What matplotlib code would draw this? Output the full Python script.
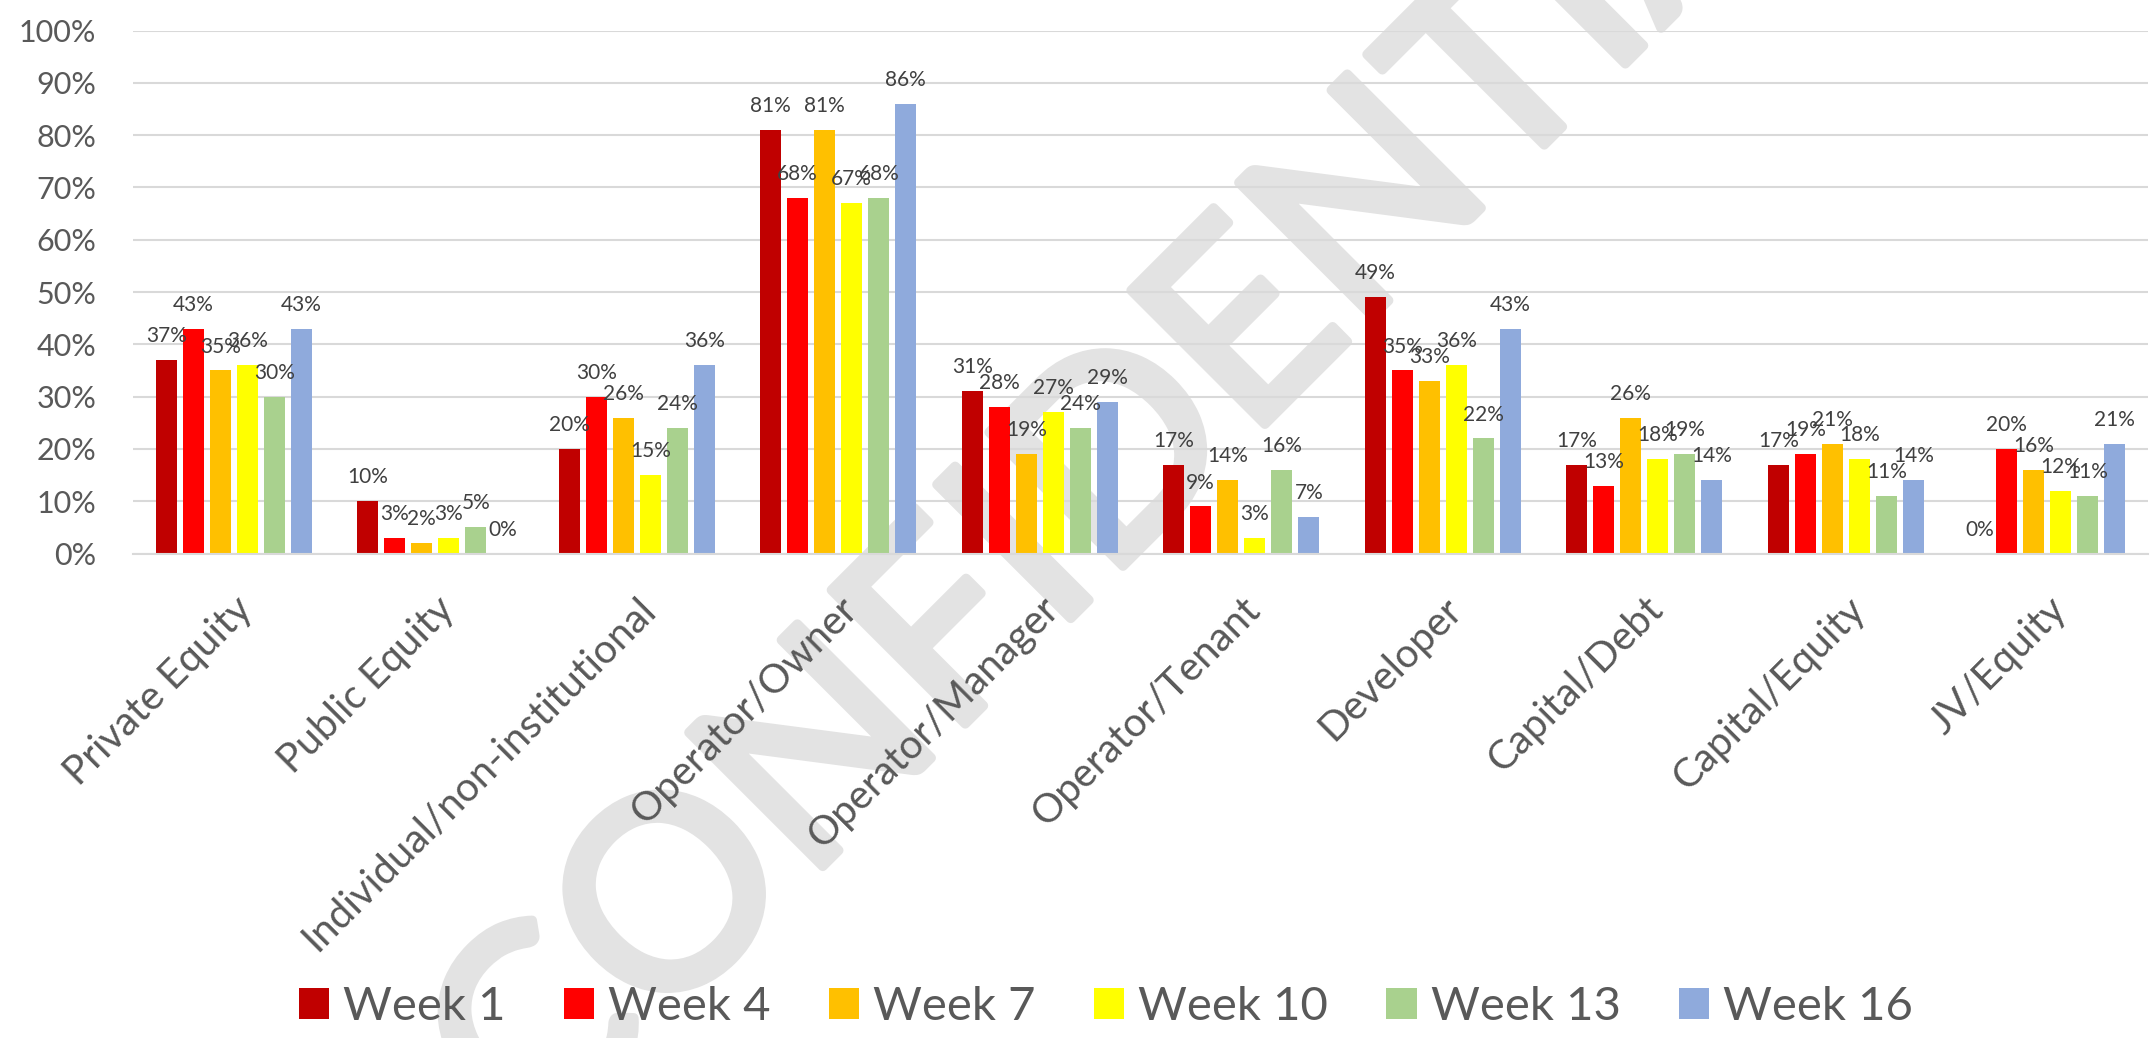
import numpy as np
import matplotlib
matplotlib.use("Agg")
import matplotlib.pyplot as plt
import matplotlib.transforms as mtransforms
import matplotlib.patheffects as pe
from matplotlib.ticker import FuncFormatter

plt.rcParams['font.family'] = ['Lato', 'DejaVu Sans']

categories = ["Private Equity", "Public Equity", "Individual/non-institutional",
              "Operator/Owner", "Operator/Manager", "Operator/Tenant", "Developer",
              "Capital/Debt", "Capital/Equity", "JV/Equity"]
weeks = ["Week 1", "Week 4", "Week 7", "Week 10", "Week 13", "Week 16"]

week1 = [37, 10, 20, 81, 31, 17, 49, 17, 17, 0]
week4 = [43, 3, 30, 68, 28, 9, 35, 13, 19, 20]
week7 = [35, 2, 26, 81, 19, 14, 33, 26, 21, 16]
week10 = [36, 3, 15, 67, 27, 3, 36, 18, 18, 12]
week13 = [30, 5, 24, 68, 24, 16, 22, 19, 11, 11]
week16 = [43, 0, 36, 86, 29, 7, 43, 14, 14, 21]
series = [week1, week4, week7, week10, week13, week16]

colors = ["#C00000", "#FF0000", "#FFC000", "#FFFF00", "#A9D18E", "#8FAADC"]

W, H = 2152, 1038
fig = plt.figure(figsize=(W / 100, H / 100), dpi=100)
ax = fig.add_axes([133 / W, 1 - 553.5 / H, (2148 - 133) / W, 523 / H])
ax.patch.set_alpha(0)

# watermark behind the chart
fig.text(1207 / W, 1 - 482 / H, "CONFIDENTIAL", rotation=45, rotation_mode="anchor",
         ha="center", va="baseline", fontsize=190, color="#E3E3E3", zorder=-1,
         path_effects=[pe.withStroke(linewidth=7, foreground="#E3E3E3")])

x = np.arange(len(categories))
pitch = 0.134
bw = 0.106
for i, (name, vals) in enumerate(zip(weeks, series)):
    bars = ax.bar(x + (i - 2.5) * pitch, vals, bw, color=colors[i], label=name, zorder=2)
    ax.bar_label(bars, labels=[f"{v}%" for v in vals], padding=10,
                 fontsize=15, color="#404040")

ax.set_xlim(-0.5, len(categories) - 0.5)
ax.set_ylim(0, 100)
ax.set_yticks(np.arange(0, 101, 10))
ax.yaxis.set_major_formatter(FuncFormatter(lambda v, p: f"{v:.0f}%"))
ax.grid(axis="y", color="#D9D9D9", linewidth=1.5, zorder=0)
ax.set_axisbelow(True)

for s in ["top", "right", "left"]:
    ax.spines[s].set_visible(False)
ax.spines["bottom"].set_color("#D9D9D9")
ax.spines["bottom"].set_linewidth(1.5)

ax.tick_params(axis="y", length=0, pad=26.5, labelsize=22, labelcolor="#595959")
ax.tick_params(axis="x", length=0, pad=0, labelsize=29, labelcolor="#595959")
ax.set_xticks(x)
ax.set_xticklabels(categories, rotation=45, ha="right", va="center", rotation_mode="anchor")
offset = mtransforms.ScaledTranslation(0.13, -0.50, fig.dpi_scale_trans)
for lbl in ax.get_xticklabels():
    lbl.set_transform(lbl.get_transform() + offset)

fig.legend(loc="center", bbox_to_anchor=(1106 / W, 1 - 1007 / H), ncol=6, frameon=False,
           fontsize=34, labelcolor="#595959", handlelength=0.64, handleheight=0.64,
           handletextpad=0.3, columnspacing=1.23)

fig.savefig("out.png", dpi=100)
plt.close(fig)
